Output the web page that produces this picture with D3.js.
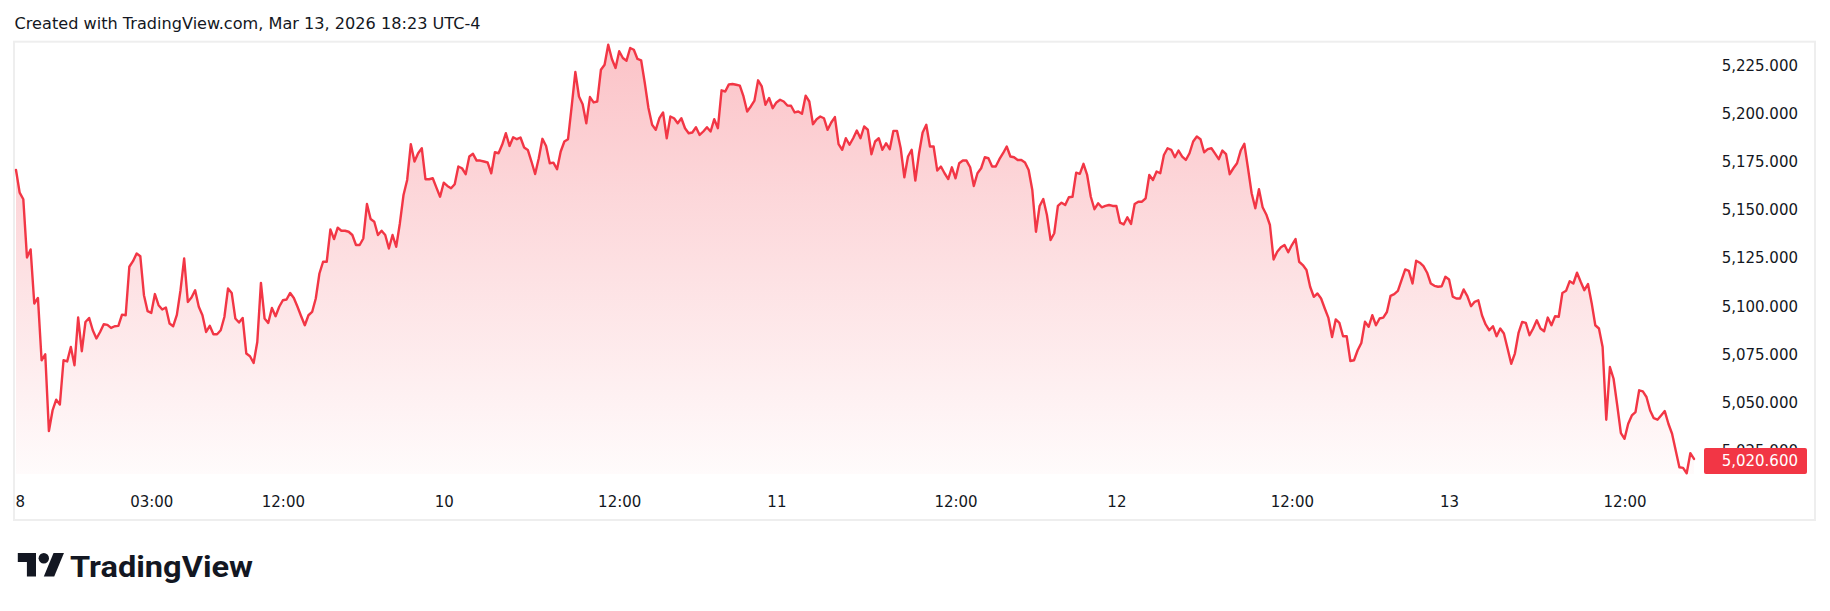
<!DOCTYPE html>
<html>
<head>
<meta charset="utf-8">
<script src="https://cdn.jsdelivr.net/npm/d3@7"></script>
<style>
  html, body { margin: 0; padding: 0; background: #ffffff; }
  svg { display: block; }
</style>
</head>
<body>
<svg id="chart" width="1830" height="611"></svg>
<script>
// ---- data (15-minute bars, Mar 8 evening session through Mar 13) ----
const prices = [
5170.8,5159.0,5155.6,5125.3,5129.5,5101.4,5104.3,5071.9,5075.0,5035.1,
5045.8,5051.4,5048.9,5071.9,5071.3,5078.8,5069.3,5094.1,5076.6,5091.8,
5093.9,5087.5,5083.2,5086.6,5090.6,5090.3,5088.7,5089.6,5089.8,5095.6,
5095.3,5120.5,5123.4,5127.4,5126.0,5105.7,5097.4,5096.5,5106.3,5100.5,
5098.3,5099.3,5091.0,5089.6,5095.5,5108.3,5124.8,5102.2,5104.5,5108.3,
5099.7,5095.3,5086.6,5089.8,5085.4,5085.4,5087.5,5094.4,5109.2,5106.9,
5093.6,5091.5,5093.9,5075.4,5074.0,5070.5,5081.4,5112.1,5093.6,5091.3,
5099.1,5094.8,5099.7,5103.1,5103.5,5106.9,5104.3,5099.7,5094.8,5090.1,
5095.3,5097.0,5104.0,5117.0,5123.1,5123.1,5139.9,5134.9,5140.8,5139.2,
5139.2,5138.7,5137.0,5131.8,5131.8,5135.2,5153.1,5145.3,5143.9,5137.0,
5139.2,5137.0,5130.0,5137.0,5130.9,5143.0,5157.8,5165.6,5184.2,5175.2,
5179.5,5182.1,5166.0,5166.0,5166.5,5161.6,5156.9,5164.2,5162.5,5161.3,
5163.4,5172.6,5171.7,5168.6,5177.8,5179.2,5175.7,5175.7,5175.2,5174.7,
5169.1,5180.0,5179.5,5184.0,5189.9,5183.3,5187.8,5186.8,5187.7,5182.5,
5181.2,5175.2,5168.7,5176.9,5187.0,5183.3,5174.3,5174.6,5171.2,5180.4,
5185.6,5186.8,5203.8,5221.7,5209.0,5205.0,5195.1,5208.7,5205.9,5206.4,
5222.9,5225.5,5235.9,5228.5,5223.8,5232.5,5229.0,5227.6,5234.2,5233.3,
5228.5,5227.8,5216.0,5203.0,5194.3,5191.7,5197.7,5200.7,5187.3,5198.6,
5197.7,5195.1,5197.7,5192.5,5189.9,5190.3,5193.0,5189.0,5190.8,5193.0,
5190.8,5197.2,5192.5,5212.2,5211.6,5215.3,5215.5,5215.1,5214.6,5209.0,
5201.2,5203.8,5206.9,5217.4,5214.2,5204.7,5208.2,5202.9,5205.9,5207.3,
5206.4,5204.3,5204.2,5200.7,5201.2,5200.0,5209.4,5206.4,5194.6,5197.2,
5198.6,5197.7,5191.7,5195.5,5198.3,5184.2,5181.3,5187.3,5183.9,5187.3,
5191.3,5187.3,5193.4,5191.7,5179.0,5185.6,5187.3,5181.3,5184.7,5181.6,
5191.1,5191.1,5182.1,5167.0,5177.8,5181.3,5165.3,5179.2,5190.3,5194.3,
5183.0,5183.0,5170.5,5172.6,5169.1,5166.1,5172.2,5166.5,5174.3,5175.7,
5175.7,5172.2,5162.5,5169.1,5171.7,5177.4,5176.9,5172.6,5172.6,5176.4,
5179.5,5183.0,5177.8,5177.4,5176.0,5176.0,5174.7,5170.8,5160.4,5138.7,
5152.1,5155.7,5147.4,5134.4,5137.9,5152.1,5153.8,5152.6,5156.6,5156.9,
5169.4,5168.8,5174.0,5168.2,5156.9,5150.4,5153.5,5151.4,5152.1,5152.6,
5152.1,5152.1,5143.4,5142.5,5146.2,5142.7,5153.1,5154.3,5154.3,5156.1,
5168.2,5165.6,5170.0,5169.1,5178.6,5182.1,5181.3,5177.4,5180.9,5177.8,
5176.0,5179.5,5185.6,5188.2,5186.8,5180.0,5181.6,5182.1,5179.3,5176.4,
5180.9,5179.0,5168.6,5171.7,5174.3,5180.9,5184.4,5171.7,5158.7,5150.9,
5160.8,5151.4,5147.7,5142.2,5124.3,5128.3,5130.6,5131.8,5128.0,5131.8,
5134.9,5123.1,5121.4,5118.8,5110.1,5104.9,5106.6,5104.0,5098.8,5093.9,
5084.0,5093.1,5091.3,5084.4,5084.4,5071.5,5071.9,5077.1,5080.9,5091.9,
5089.3,5095.3,5090.1,5093.6,5094.1,5097.0,5105.4,5106.3,5108.0,5113.5,
5119.1,5118.4,5111.8,5123.6,5122.6,5120.8,5117.4,5111.8,5110.6,5110.1,
5110.4,5115.3,5113.9,5105.0,5104.0,5104.0,5108.7,5105.2,5100.0,5102.3,
5103.1,5095.3,5090.5,5087.5,5089.6,5084.4,5088.4,5085.8,5078.0,5070.1,
5075.4,5086.1,5091.8,5091.3,5084.9,5088.4,5092.7,5088.4,5087.0,5094.1,
5090.1,5094.8,5094.5,5106.9,5108.0,5113.0,5111.8,5117.4,5112.7,5108.3,
5111.5,5101.7,5090.1,5088.4,5078.8,5041.0,5068.4,5062.3,5048.5,5034.0,
5031.1,5038.9,5043.2,5045.0,5056.3,5055.7,5052.8,5045.8,5041.8,5041.0,
5043.2,5045.5,5038.9,5033.7,5025.0,5016.3,5016.0,5013.2,5023.6,5020.6
];
const timeLabels = ["8","03:00","12:00","10","12:00","11","12:00","12","12:00","13","12:00"];
const timeLabelBars = [1,37,73,117,165,208,257,301,349,392,440];
const priceTicks = [5225,5200,5175,5150,5125,5100,5075,5050,5025];
const lastPrice = 5020.6;
const headerText = "Created with TradingView.com, Mar 13, 2026 18:23 UTC-4";
const brandText = "TradingView";

// ---- layout ----
const svg = d3.select("#chart");
const frame = {left: 14, top: 41.7, right: 1815, bottom: 520};
const paneBottom = 474;
const RED = "#f23645";
const TEXT = "#131722";

const x = d3.scaleLinear().domain([0, prices.length - 1]).range([16, 1694]);
const y = d3.scaleLinear().domain([5000, 5225]).range([498.6, 65.7]);

// gradient
const defs = svg.append("defs");
const grad = defs.append("linearGradient")
  .attr("id", "areaGrad").attr("gradientUnits", "userSpaceOnUse")
  .attr("x1", 0).attr("x2", 0).attr("y1", frame.top).attr("y2", paneBottom);
grad.append("stop").attr("offset", "0%").attr("stop-color", RED).attr("stop-opacity", 0.30);
grad.append("stop").attr("offset", "100%").attr("stop-color", RED).attr("stop-opacity", 0.02);

// header
svg.append("text")
  .attr("x", 14.6).attr("y", 29.3)
  .attr("font-family", "DejaVu Sans, sans-serif").attr("font-size", 16.5)
  .attr("fill", TEXT)
  .attr("textLength", 466).attr("lengthAdjust", "spacingAndGlyphs")
  .text(headerText);

// frame
svg.append("rect")
  .attr("x", frame.left).attr("y", frame.top)
  .attr("width", frame.right - frame.left).attr("height", frame.bottom - frame.top)
  .attr("fill", "none").attr("stroke", "#eeeeee").attr("stroke-width", 2);

// area + line
const area = d3.area().x((d, i) => x(i)).y0(paneBottom).y1(d => y(d));
const line = d3.line().x((d, i) => x(i)).y(d => y(d));

svg.append("path").datum(prices).attr("d", area).attr("fill", "url(#areaGrad)");
svg.append("path").datum(prices).attr("d", line)
  .attr("fill", "none").attr("stroke", RED).attr("stroke-width", 2.4)
  .attr("stroke-linejoin", "round").attr("stroke-linecap", "round");

// price axis
const fmt = d3.format(",.3f");
const yAxis = d3.axisLeft(y).tickValues(priceTicks).tickFormat(fmt).tickSize(0).tickPadding(0);
const gy = svg.append("g").attr("transform", "translate(1798,0)").call(yAxis);
gy.select(".domain").remove();
gy.selectAll("text").attr("font-family", "DejaVu Sans, sans-serif").attr("font-size", 15).attr("fill", TEXT);

// time axis
const xAxis = d3.axisBottom(x).tickValues(timeLabelBars)
  .tickFormat((d, i) => timeLabels[i]).tickSize(0).tickPadding(0);
const gx = svg.append("g").attr("transform", "translate(0,496.5)").call(xAxis);
gx.select(".domain").remove();
gx.selectAll("text").attr("font-family", "DejaVu Sans, sans-serif").attr("font-size", 15).attr("fill", TEXT);

// last price label
const yl = y(lastPrice);
svg.append("rect")
  .attr("x", 1704).attr("y", yl - 11).attr("width", 103).attr("height", 26)
  .attr("rx", 2).attr("fill", RED);
svg.append("text")
  .attr("x", 1798).attr("y", yl + 2).attr("dy", "0.32em")
  .attr("text-anchor", "end")
  .attr("font-family", "DejaVu Sans, sans-serif").attr("font-size", 15)
  .attr("fill", "#ffffff")
  .text(fmt(lastPrice));

// brand logo
const logo = svg.append("g").attr("transform", "translate(17.8,547.8) scale(1.3)").attr("fill", TEXT);
logo.append("path").attr("d", "M14 22H7V11H0V4h14v18z");
logo.append("path").attr("d", "M28 22h-8l7.5-18h8L28 22z");
logo.append("circle").attr("cx", 20).attr("cy", 8).attr("r", 4);
svg.append("text")
  .attr("x", 70).attr("y", 576.5)
  .attr("font-family", "Roboto, Inter, sans-serif").attr("font-weight", 700).attr("font-size", 30)
  .attr("fill", TEXT)
  .attr("textLength", 183).attr("lengthAdjust", "spacingAndGlyphs")
  .text(brandText);
</script>
</body>
</html>
